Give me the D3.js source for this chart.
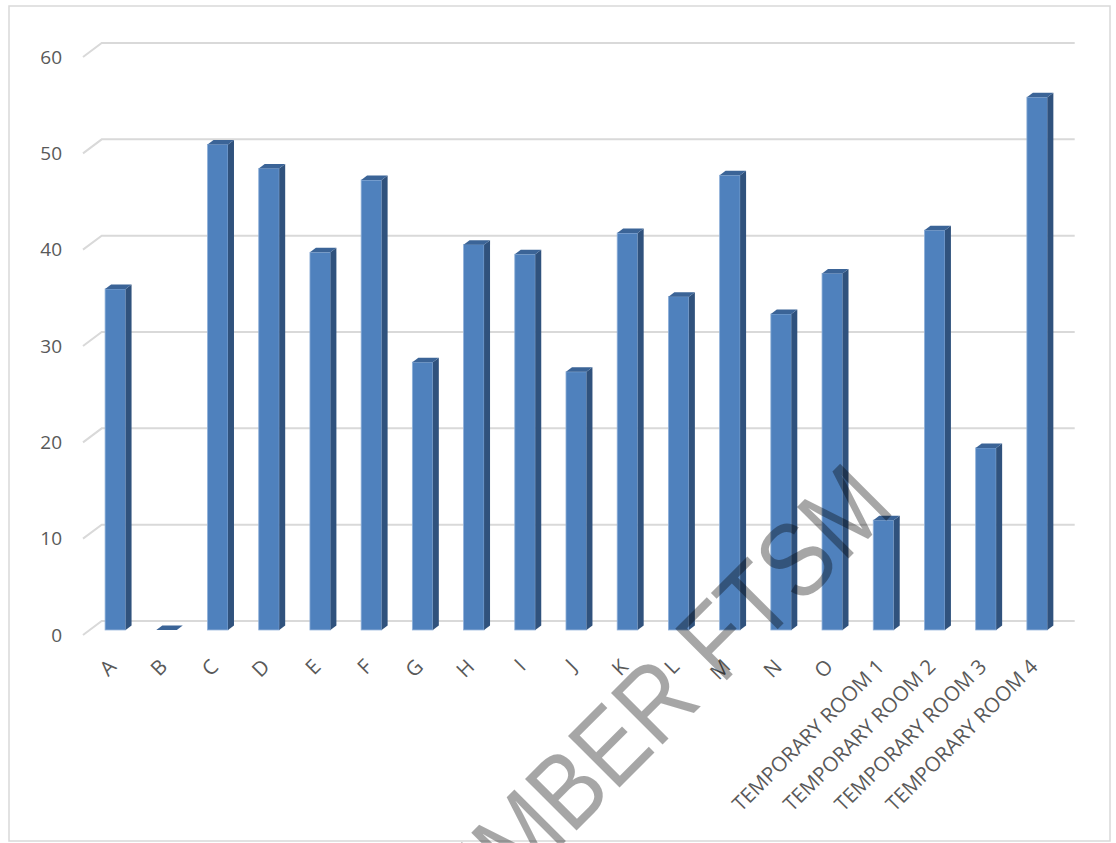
<!DOCTYPE html>
<html>
<head>
<meta charset="utf-8">
<script src="https://cdn.jsdelivr.net/npm/d3@7"></script>
<style>
  body { margin: 0; background: #fff; }
  svg { display: block; }
</style>
</head>
<body>
<script>
// categories and values
var categories = ["A", "B", "C", "D", "E", "F", "G", "H", "I", "J", "K", "L", "M", "N", "O",
  "TEMPORARY ROOM 1", "TEMPORARY ROOM 2", "TEMPORARY ROOM 3", "TEMPORARY ROOM 4"]
var values = [35.4, 0, 50.4, 47.9, 39.2, 46.7, 27.8, 40.0, 39.0, 26.8, 41.2, 34.6, 47.2, 32.8, 37.0,
  11.4, 41.5, 18.9, 55.3]
var yTicks = [0, 10, 20, 30, 40, 50, 60]
var watermark = "MEMBER FTSM"

var w = 1116, h = 843

// 3d look: depth vector of the floor (front -> back wall)
var depth = { dx: 18.7, dy: -14 }
var barFront = 0.36, barBack = 0.68

var svg = d3.select("body").append("svg")
  .attr("width", w)
  .attr("height", h)

// chart frame
svg.append("rect")
  .attr("x", 9).attr("y", 6)
  .attr("width", 1101).attr("height", 835)
  .attr("fill", "none")
  .attr("stroke", "#d9d9d9")
  .attr("stroke-width", 1.5)

// x in the front plane
var x = d3.scaleBand()
  .domain(categories)
  .range([83, 1056])
  .paddingInner(0.6)
  .paddingOuter(0.3)

// y on the back wall
var y = d3.scaleLinear().domain([0, 60]).range([621, 43])

// point on floor/wall: front-plane x, value, depth fraction
function px(xx, d) { return xx + depth.dx * d }
function py(v, d) { return y(v) - depth.dy + depth.dy * d }

// gridlines: side wall diagonal + back wall line
svg.append("g").selectAll("path")
  .data(yTicks)
  .enter()
  .append("path")
  .attr("d", function(v) {
    return "M" + px(83, 0) + "," + py(v, 0) +
      "L" + px(83, 1) + "," + py(v, 1) +
      "L" + px(1056, 1) + "," + py(v, 1)
  })
  .attr("fill", "none")
  .attr("stroke", "#d9d9d9")
  .attr("stroke-width", 2)

// y labels
svg.append("g").selectAll("text")
  .data(yTicks)
  .enter()
  .append("text")
  .attr("x", 62)
  .attr("y", function(v) { return py(v, 0) })
  .attr("dy", "0.35em")
  .attr("text-anchor", "end")
  .attr("font-family", "'Open Sans', sans-serif")
  .attr("font-size", 19)
  .attr("fill", "#595959")
  .text(function(v) { return v })

// bars
var bw = x.bandwidth()
var sdx = depth.dx * (barBack - barFront)
var sdy = depth.dy * (barBack - barFront)

svg.append("g").selectAll("g")
  .data(values)
  .enter()
  .append("g")
  .each(function(v, i) {
    var g = d3.select(this)
    var x0 = px(x(categories[i]), barFront)
    var base = py(0, barFront)
    var top = py(v, barFront)

    if (v > 0) {
      // front
      g.append("rect")
        .attr("x", x0).attr("y", top)
        .attr("width", bw).attr("height", base - top)
        .attr("fill", "#4f81bd")
        .attr("stroke", "#8fb0d9")
        .attr("stroke-width", 0.8)
      // side
      g.append("path")
        .attr("d", "M" + (x0 + bw) + "," + top +
          "L" + (x0 + bw + sdx) + "," + (top + sdy) +
          "L" + (x0 + bw + sdx) + "," + (base + sdy) +
          "L" + (x0 + bw) + "," + base + "Z")
        .attr("fill", "#30527d")
    }
    // top
    g.append("path")
      .attr("d", "M" + x0 + "," + top +
        "L" + (x0 + bw) + "," + top +
        "L" + (x0 + bw + sdx) + "," + (top + sdy) +
        "L" + (x0 + sdx) + "," + (top + sdy) + "Z")
      .attr("fill", "#3b6497")
  })

// x labels
svg.append("g").selectAll("text")
  .data(categories)
  .enter()
  .append("text")
  .attr("transform", function(c) {
    var cx = px(x(c), barFront) + bw / 2 + 2
    return "translate(" + cx + ",668) rotate(-45)"
  })
  .attr("text-anchor", "end")
  .attr("font-family", "'Open Sans', sans-serif")
  .attr("font-size", 20.5)
  .attr("fill", "#595959")
  .text(function(c) { return c })

// watermark over everything (narrow, tall letters)
svg.append("text")
  .attr("transform", "translate(897,510) rotate(-45) scale(0.86,1)")
  .attr("text-anchor", "end")
  .attr("font-family", "'Liberation Sans', Arial, sans-serif")
  .attr("font-size", 106)
  .attr("fill", "#000")
  .attr("fill-opacity", 0.35)
  .text(watermark)
</script>
</body>
</html>
